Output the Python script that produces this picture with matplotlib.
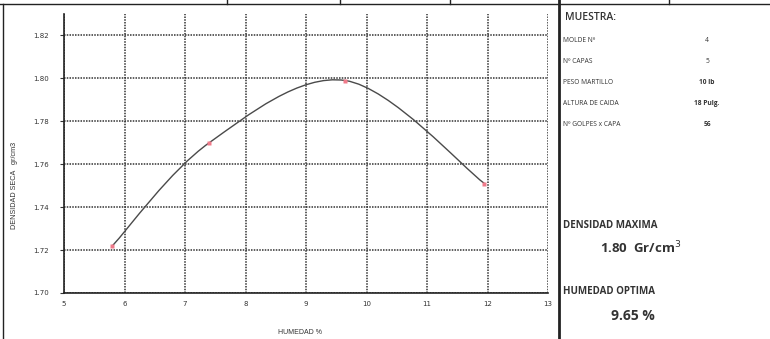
import numpy as np
import matplotlib.pyplot as plt
from matplotlib.lines import Line2D
from matplotlib.path import Path
from matplotlib.patches import PathPatch

# ensayo Proctor
humedad = [5.8, 7.4, 9.65, 11.95]
densidad = [1.722, 1.770, 1.799, 1.751]
x_ticks = [5, 6, 7, 8, 9, 10, 11, 12, 13]
y_ticks = [1.70, 1.72, 1.74, 1.76, 1.78, 1.80, 1.82]

campos = ["MOLDE Nº", "Nº CAPAS", "PESO MARTILLO", "ALTURA DE CAIDA", "Nº GOLPES x CAPA"]
valores = ["4", "5", "10 lb", "18 Pulg.", "56"]
dens_max = "1.80"
hum_opt = "9.65"

W, H = 770, 339
fig = plt.figure(figsize=(W / 100, H / 100), dpi=100)
ax = fig.add_axes([64 / W, 1 - 293 / H, (548 - 64) / W, (293 - 14) / H])

# linea suavizada tipo excel (bezier entre los puntos)
pts = np.column_stack([humedad, densidad])
n = len(pts)
verts = [pts[0]]
codes = [Path.MOVETO]
for i in range(n - 1):
    p_prev = pts[max(i - 1, 0)]
    p_next2 = pts[min(i + 2, n - 1)]
    c1 = pts[i] + (pts[i + 1] - p_prev) / 6
    c2 = pts[i + 1] - (p_next2 - pts[i]) / 6
    verts += [c1, c2, pts[i + 1]]
    codes += [Path.CURVE4] * 3
ax.add_patch(PathPatch(Path(verts, codes), fc="none", ec="#4a4a4a", lw=1.0, zorder=3))
ax.plot(humedad, densidad, "s", ms=3.5, color="#f07a8a", mec="none", zorder=4)

ax.set_xlim(5, 13)
ax.set_ylim(1.70, 1.83)
ax.set_xticks(x_ticks)
ax.set_yticks(y_ticks)
ax.set_yticklabels([f"{v:.2f}" for v in y_ticks])
ax.tick_params(labelsize=5, colors="#333333", length=3, width=0.8, pad=8)
ax.tick_params(axis="x", length=0, pad=6)
ax.grid(True, color="#333333", lw=1.1, ls=(0, (1, 0.8)))
ax.set_axisbelow(True)
for s in ["top", "right"]:
    ax.spines[s].set_visible(False)
for s in ["left", "bottom"]:
    ax.spines[s].set_color("#222222")
    ax.spines[s].set_linewidth(1.2)

fig.text(300 / W, 1 - 332 / H, "HUMEDAD %", fontsize=5, ha="center", va="center",
         color="#333333", family="Liberation Sans")
fig.text(15 / W, 1 - 185 / H, "DENSIDAD SECA   gr/cm3", fontsize=5.2, rotation=90,
         ha="center", va="center", color="#333333", family="Liberation Sans")

# lineas del formato
lc = "#222222"
fig.add_artist(Line2D([0, 1], [1 - 4 / H, 1 - 4 / H], color=lc, lw=1.0))
for xv in [227, 340, 450, 669]:
    fig.add_artist(Line2D([xv / W, xv / W], [1 - 4 / H, 1], color=lc, lw=1.0))
fig.add_artist(Line2D([3 / W, 3 / W], [0, 1 - 4 / H], color=lc, lw=1.0))
fig.add_artist(Line2D([559 / W, 559 / W], [0, 1], color=lc, lw=2.0))

# panel derecho
fam = ["Open Sans", "DejaVu Sans"]
fig.text(565 / W, 1 - 17 / H, "MUESTRA:", fontsize=7.5, va="center", color="#333333",
         family=fam, fontweight="semibold")
for i, (c, v) in enumerate(zip(campos, valores)):
    y = 1 - (41 + i * 20.8) / H
    fig.text(563 / W, y, c, fontsize=4.8, va="center", color="#333333", family=fam)
    fig.text(707 / W, y, v, fontsize=4.8, va="center", ha="center", color="#333333",
             family=fam, fontweight="bold" if i > 1 else "normal")

fig.text(563 / W, 1 - 225 / H, "DENSIDAD MAXIMA", fontsize=7, va="center",
         color="#333333", family=fam, fontweight="bold")
fig.text(600 / W, 1 - 248 / H, dens_max + "  Gr/cm$^3$", fontsize=9.5, va="center",
         color="#333333", family=fam, fontweight="bold")
fig.text(563 / W, 1 - 291 / H, "HUMEDAD OPTIMA", fontsize=7, va="center",
         color="#333333", family=fam, fontweight="bold")
fig.text(611 / W, 1 - 316 / H, hum_opt + " %", fontsize=10, va="center",
         color="#333333", family=fam, fontweight="bold")

fig.savefig("out.png", dpi=100)
